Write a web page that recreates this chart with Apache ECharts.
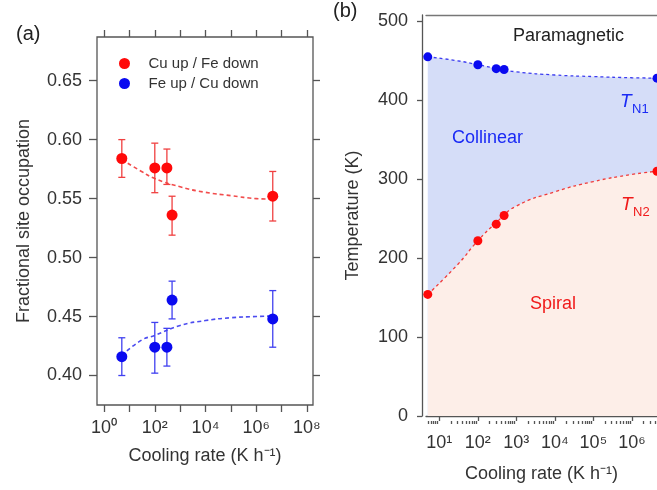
<!DOCTYPE html>
<html lang="en">
<head>
<meta charset="UTF-8">
<title>Site occupation and phase diagram</title>
<style>
    html, body { margin: 0; padding: 0; background: #fff; }
    #root { width: 657px; height: 490px; }
</style>
</head>
<body>
<div id="root"></div>
<script src="https://cdn.jsdelivr.net/npm/echarts@6/dist/echarts.min.js"></script>
<script>
// ---- panel (a): fractional site occupation vs cooling rate
var rateA = [5, 100, 300, 480, 4.5e6];
var cuUp = [0.584, 0.576, 0.576, 0.536, 0.552];
var cuUpLo = [0.568, 0.555, 0.562, 0.519, 0.531];
var cuUpHi = [0.600, 0.597, 0.592, 0.552, 0.573];
var feUp = [0.416, 0.424, 0.424, 0.464, 0.448];
var feUpLo = [0.400, 0.402, 0.408, 0.448, 0.424];
var feUpHi = [0.432, 0.445, 0.440, 0.480, 0.472];
var fitRateA = [5, 30, 100, 1000, 1e4, 1e5, 1e6, 4.5e6];
var cuFit = [0.583, 0.573, 0.567, 0.560, 0.5553, 0.5525, 0.550, 0.5495];
var feFit = [0.417, 0.430, 0.434, 0.4424, 0.4466, 0.449, 0.450, 0.4505];
var decadesA = [1, 1e1, 1e2, 1e3, 1e4, 1e5, 1e6, 1e7, 1e8];
var labelsA = [1, 1e2, 1e4, 1e6, 1e8];
var yTicksA = [0.40, 0.45, 0.50, 0.55, 0.60, 0.65];

// ---- panel (b): transition temperatures
var rateB = [5, 100, 300, 480, 4.5e6];
var tn1 = [455, 445, 440, 439, 428];
var tn2 = [154, 222, 243, 254, 310];
var fitRateB = [5, 30, 100, 300, 1000, 1e4, 1e5, 1e6, 4.5e6];
var tn1Fit = [455, 450, 445, 440.5, 436, 432, 430, 428.5, 428];
var tn2Fit = [154, 192, 222, 245, 266, 284, 297, 306, 310];
var decadesB = [10, 1e2, 1e3, 1e4, 1e5, 1e6];
var yTicksB = [0, 100, 200, 300, 400, 500];

var FONT = 'Liberation Sans, Arial, sans-serif';
var SUP = '⁰¹²³⁴⁵⁶⁷⁸⁹';
var AXIS_COL = '#555';
var RED = '#ff0a0a';
var BLUE = '#0a0af0';

// minor ticks 2..9 of each decade
var minorB = [];
[1, 10, 1e2, 1e3, 1e4, 1e5, 1e6].forEach(function (d) {
    for (var k = 2; k <= 9; k++) minorB.push(k * d);
});

function pow10Label(v) {
    return '10' + SUP.charAt(Math.round(Math.log10(v)));
}
function zip(xs, ys) {
    return xs.map(function (x, i) { return [x, ys[i]]; });
}
function bars(xs, lo, hi) {
    return xs.map(function (x, i) { return [x, lo[i], hi[i]]; });
}
function errorBar(color) {
    return function (params, api) {
        var top = api.coord([api.value(0), api.value(2)]);
        var bot = api.coord([api.value(0), api.value(1)]);
        var w = 3.5;
        var st = { stroke: color, lineWidth: 1.3 };
        return {
            type: 'group',
            children: [
                { type: 'line', shape: { x1: top[0], y1: top[1], x2: bot[0], y2: bot[1] }, style: st },
                { type: 'line', shape: { x1: top[0] - w, y1: top[1], x2: top[0] + w, y2: top[1] }, style: st },
                { type: 'line', shape: { x1: bot[0] - w, y1: bot[1], x2: bot[0] + w, y2: bot[1] }, style: st }
            ]
        };
    };
}
function label(extra) {
    return Object.assign({ color: '#333', fontFamily: FONT, fontSize: 18 }, extra);
}
function nameStyle() {
    return { color: '#333', fontFamily: FONT, fontSize: 18 };
}
function text(x, y, s, size, color, extra) {
    return {
        type: 'text', left: x, top: y, z: 100,
        style: Object.assign({ text: s, fontFamily: FONT, fontSize: size, fill: color }, extra || {})
    };
}

var tickStyle = { color: AXIS_COL, width: 1.3 };

var option = {
    animation: false,
    backgroundColor: '#fff',
    grid: [
        { left: 97, top: 37, width: 216, height: 368, show: true, borderColor: AXIS_COL, borderWidth: 1.3 },
        { left: 426, top: 15, right: 0, height: 401 }
    ],
    legend: {
        left: 114, top: 51, orient: 'vertical', itemWidth: 28, itemHeight: 11, itemGap: 5,
        icon: 'circle',
        textStyle: { color: '#333', fontFamily: FONT, fontSize: 15, padding: [0, 0, 0, 5] },
        data: ['Cu up / Fe down', 'Fe up / Cu down']
    },
    xAxis: [
        {
            gridIndex: 0, type: 'log', min: 0.525, max: 1.74e8, position: 'bottom',
            axisLine: { show: false }, splitLine: { show: false },
            axisTick: { customValues: decadesA, length: 7, lineStyle: tickStyle },
            axisLabel: label({ customValues: labelsA, formatter: pow10Label, margin: 14 }),
            name: 'Cooling rate (K h⁻¹)', nameLocation: 'middle', nameGap: 42, nameTextStyle: nameStyle()
        },
        {
            gridIndex: 0, type: 'log', min: 0.525, max: 1.74e8, position: 'top',
            axisLine: { show: false }, splitLine: { show: false },
            axisTick: { customValues: decadesA, length: 7, lineStyle: tickStyle },
            axisLabel: { show: false }
        },
        {
            gridIndex: 1, type: 'log', min: 4.5, max: 4.5e6, position: 'bottom', offset: 5,
            axisLine: { show: true, lineStyle: tickStyle }, splitLine: { show: false },
            axisTick: { customValues: decadesB, length: 5, lineStyle: tickStyle },
            axisLabel: label({ customValues: decadesB, formatter: pow10Label, margin: 13 }),
            name: 'Cooling rate (K h⁻¹)', nameLocation: 'middle', nameGap: 44, nameTextStyle: nameStyle()
        },
        {
            gridIndex: 1, type: 'log', min: 4.5, max: 4.5e6, position: 'bottom', offset: 5,
            axisLine: { show: false }, splitLine: { show: false },
            axisTick: { customValues: minorB, length: 3, lineStyle: tickStyle },
            axisLabel: { show: false }
        },
        {
            gridIndex: 1, type: 'log', min: 4.5, max: 4.5e6, position: 'top',
            axisLine: { show: true, lineStyle: { color: '#777', width: 1.3 } },
            axisTick: { show: false }, axisLabel: { show: false }, splitLine: { show: false }
        }
    ],
    yAxis: [
        {
            gridIndex: 0, type: 'value', min: 0.375, max: 0.687, position: 'left',
            axisLine: { show: false }, splitLine: { show: false },
            axisTick: { customValues: yTicksA, length: 8, lineStyle: tickStyle },
            axisLabel: label({ customValues: yTicksA, margin: 15, formatter: function (v) { return v.toFixed(2); } }),
            name: 'Fractional site occupation', nameLocation: 'middle', nameGap: 64, nameTextStyle: nameStyle()
        },
        {
            gridIndex: 0, type: 'value', min: 0.375, max: 0.687, position: 'right',
            axisLine: { show: false }, splitLine: { show: false },
            axisTick: { customValues: yTicksA, length: 7, lineStyle: tickStyle },
            axisLabel: { show: false }
        },
        {
            gridIndex: 1, type: 'value', min: 0, max: 508, position: 'left', offset: 4,
            axisLine: { show: true, lineStyle: tickStyle }, splitLine: { show: false },
            axisTick: { customValues: yTicksB, length: 5, lineStyle: tickStyle },
            axisLabel: label({ customValues: yTicksB, margin: 14 }),
            name: 'Temperature (K)', nameLocation: 'middle', nameGap: 60, nameTextStyle: nameStyle()
        }
    ],
    series: [
        // panel (a)
        {
            type: 'line', xAxisIndex: 0, yAxisIndex: 0, data: zip(fitRateA, cuFit), smooth: true,
            showSymbol: false, lineStyle: { color: '#f24c4c', width: 1.6, type: [4, 3] }, z: 2
        },
        {
            type: 'line', xAxisIndex: 0, yAxisIndex: 0, data: zip(fitRateA, feFit), smooth: true,
            showSymbol: false, lineStyle: { color: '#4c4cf0', width: 1.6, type: [4, 3] }, z: 2
        },
        {
            type: 'custom', xAxisIndex: 0, yAxisIndex: 0, renderItem: errorBar('#f04040'),
            data: bars(rateA, cuUpLo, cuUpHi), encode: { x: 0, y: [1, 2] }, z: 3
        },
        {
            type: 'custom', xAxisIndex: 0, yAxisIndex: 0, renderItem: errorBar('#4040f0'),
            data: bars(rateA, feUpLo, feUpHi), encode: { x: 0, y: [1, 2] }, z: 3
        },
        {
            name: 'Cu up / Fe down', type: 'scatter', xAxisIndex: 0, yAxisIndex: 0,
            data: zip(rateA, cuUp), symbolSize: 11, itemStyle: { color: RED, opacity: 1 }, z: 4
        },
        {
            name: 'Fe up / Cu down', type: 'scatter', xAxisIndex: 0, yAxisIndex: 0,
            data: zip(rateA, feUp), symbolSize: 11, itemStyle: { color: BLUE, opacity: 1 }, z: 4
        },
        // panel (b)
        {
            type: 'line', xAxisIndex: 2, yAxisIndex: 2, data: zip(fitRateB, tn1Fit), smooth: true,
            showSymbol: false, lineStyle: { color: '#3b3bf0', width: 1.3, type: [3, 3] },
            areaStyle: { color: '#d5ddf8', opacity: 1, origin: 'start' }, z: 1
        },
        {
            type: 'line', xAxisIndex: 2, yAxisIndex: 2, data: zip(fitRateB, tn2Fit), smooth: true,
            showSymbol: false, lineStyle: { color: '#f03b3b', width: 1.3, type: [3, 3] },
            areaStyle: { color: '#fdeee8', opacity: 1, origin: 'start' }, z: 2
        },
        {
            type: 'scatter', xAxisIndex: 2, yAxisIndex: 2, data: zip(rateB, tn1),
            symbolSize: 9, itemStyle: { color: BLUE, opacity: 1 }, z: 4
        },
        {
            type: 'scatter', xAxisIndex: 2, yAxisIndex: 2, data: zip(rateB, tn2),
            symbolSize: 9, itemStyle: { color: RED, opacity: 1 }, z: 4
        }
    ],
    graphic: [
        text(16, 24, '(a)', 20, '#222'),
        text(333, 1, '(b)', 20, '#222'),
        text(513, 27, 'Paramagnetic', 18, '#222'),
        text(452, 129, 'Collinear', 18, '#1a2af5'),
        text(530, 295, 'Spiral', 18, '#f01a1a'),
        text(620, 92, 'T', 19, '#1a2af5', { fontStyle: 'italic' }),
        text(632, 103, 'N1', 13, '#1a2af5'),
        text(621, 195, 'T', 19, '#f01a1a', { fontStyle: 'italic' }),
        text(633, 206, 'N2', 13, '#f01a1a')
    ]
};

var chart = echarts.init(document.getElementById('root'));
chart.setOption(option);
</script>
</body>
</html>
